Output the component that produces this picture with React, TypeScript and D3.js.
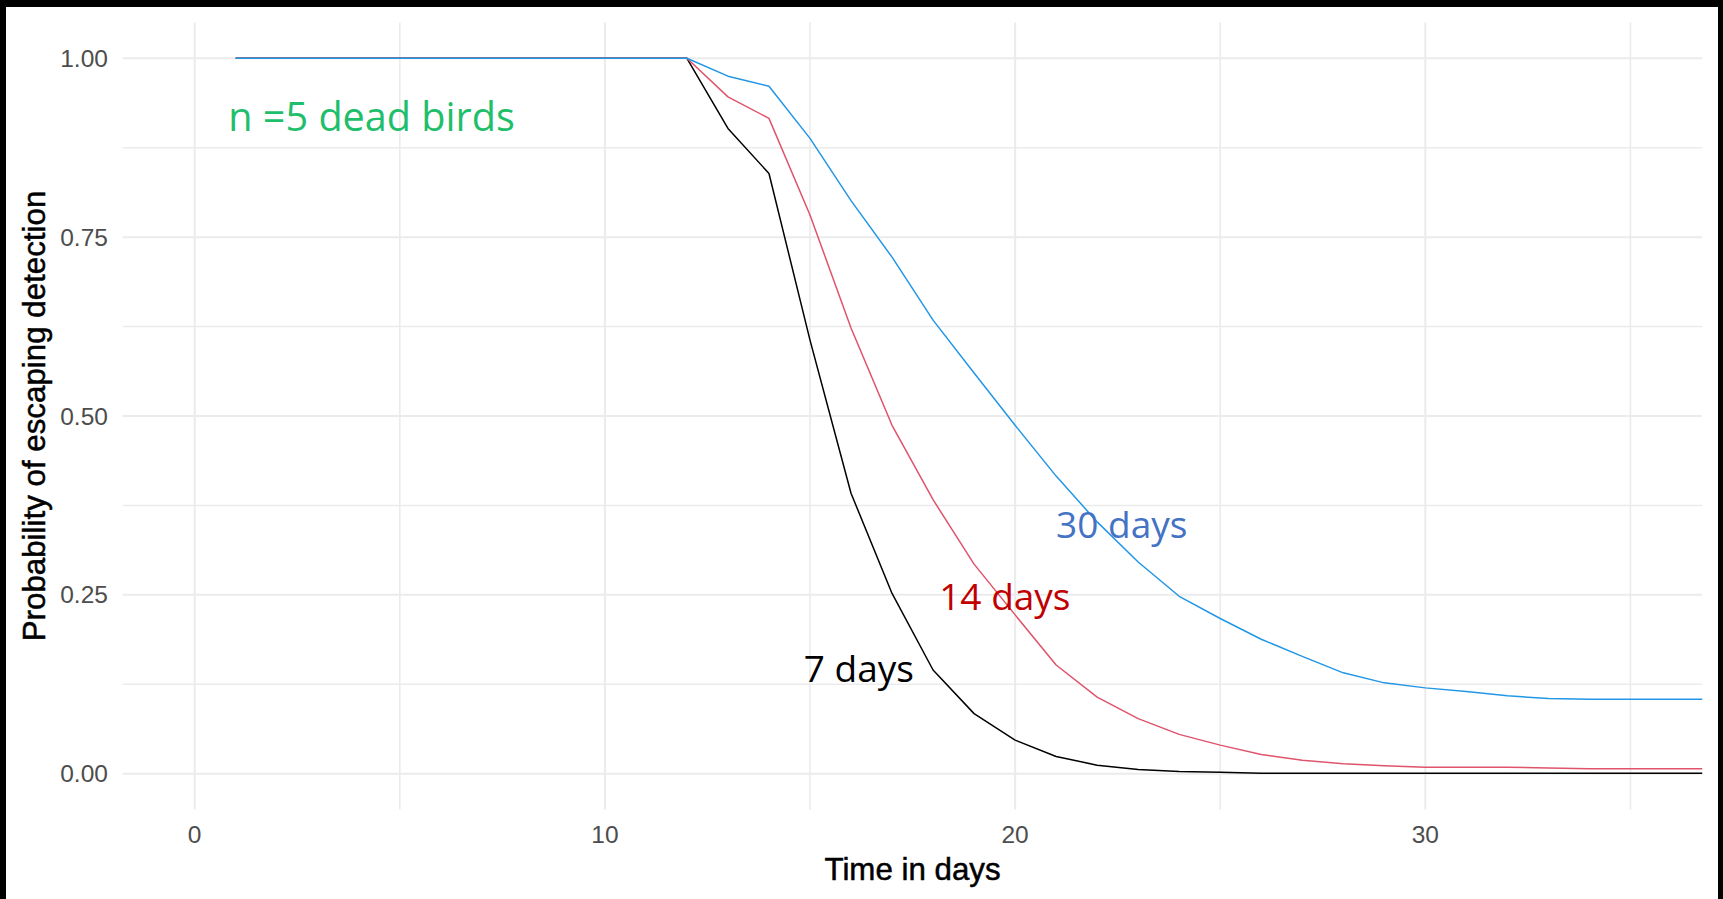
import { useEffect, useRef } from "react";
import * as d3 from "d3";

// days on the x axis
const days = [1, 2, 3, 4, 5, 6, 7, 8, 9, 10, 11, 12, 13, 14, 15, 16, 17, 18, 19, 20, 21, 22, 23, 24, 25, 26, 27, 28, 29, 30, 31, 32, 33, 34, 35, 36, 37];

// probability of escaping detection, one list per search interval
const sevenDays = [1, 1, 1, 1, 1, 1, 1, 1, 1, 1, 1, 1, 0.902, 0.839, 0.606, 0.392, 0.252, 0.145, 0.084, 0.047, 0.024, 0.012, 0.006, 0.003, 0.002, 0.0005, 0.0005, 0.0005, 0.0005, 0.0005, 0.0005, 0.0005, 0.0005, 0.0005, 0.0005, 0.0005, 0.0005];
const fourteenDays = [1, 1, 1, 1, 1, 1, 1, 1, 1, 1, 1, 1, 0.946, 0.916, 0.781, 0.623, 0.487, 0.383, 0.293, 0.222, 0.152, 0.107, 0.077, 0.055, 0.040, 0.027, 0.019, 0.014, 0.011, 0.009, 0.009, 0.009, 0.008, 0.007, 0.007, 0.007, 0.007];
const thirtyDays = [1, 1, 1, 1, 1, 1, 1, 1, 1, 1, 1, 1, 0.975, 0.961, 0.888, 0.801, 0.722, 0.634, 0.560, 0.487, 0.416, 0.352, 0.296, 0.248, 0.217, 0.188, 0.164, 0.141, 0.127, 0.120, 0.115, 0.109, 0.105, 0.104, 0.104, 0.104, 0.104];

const seriesNames = ["7 days", "14 days", "30 days"];
const seriesColours = ["#000000", "#DF536B", "#2297E6"];

const xTicks = [0, 10, 20, 30];
const xMinor = [5, 15, 25, 35];
const yTicks = [0, 0.25, 0.5, 0.75, 1];
const yMinor = [0.125, 0.375, 0.625, 0.875];

// text boxes laid over the plot
const labelTexts = ["n =5 dead birds", "30 days", "14 days", "7 days"];
const labelColours = ["#1FBE6B", "#4472C4", "#C00000", "#000000"];
const labelDays = [0.82, 21.0, 18.15, 14.85];
const labelProbs = [0.899, 0.330, 0.229, 0.128];
const labelSizes = [39.6, 37, 37, 37];

export default function App() {
  const svgRef = useRef<SVGSVGElement>(null);

  useEffect(() => {
    if (!svgRef.current) return;
    const W = 1723;
    const H = 899;
    const margin = { top: 22.5, right: 20.8, bottom: 89.5, left: 122.9 };
    const svg = d3.select(svgRef.current);
    svg.selectAll("*").remove();
    svg.attr("width", W).attr("height", H);

    // black frame round the white picture
    svg.append("rect").attr("width", W).attr("height", H).attr("fill", "#000");
    svg.append("rect")
      .attr("x", 6).attr("y", 7)
      .attr("width", 1718 - 6).attr("height", H - 7)
      .attr("fill", "#fff");

    const x = d3.scaleLinear().domain([-1.75, 36.75]).range([margin.left, W - margin.right]);
    const y = d3.scaleLinear().domain([-0.05, 1.05]).range([H - margin.bottom, margin.top]);

    const grid = svg.append("g");
    grid.selectAll("line.ym")
      .data(yMinor).enter().append("line")
      .attr("x1", x.range()[0]).attr("x2", x.range()[1])
      .attr("y1", d => y(d)).attr("y2", d => y(d))
      .attr("stroke", "#EBEBEB").attr("stroke-width", 1.6);
    grid.selectAll("line.xm")
      .data(xMinor).enter().append("line")
      .attr("y1", y.range()[0]).attr("y2", y.range()[1])
      .attr("x1", d => x(d)).attr("x2", d => x(d))
      .attr("stroke", "#EBEBEB").attr("stroke-width", 1.6);
    grid.selectAll("line.yM")
      .data(yTicks).enter().append("line")
      .attr("x1", x.range()[0]).attr("x2", x.range()[1])
      .attr("y1", d => y(d)).attr("y2", d => y(d))
      .attr("stroke", "#EBEBEB").attr("stroke-width", 2);
    grid.selectAll("line.xM")
      .data(xTicks).enter().append("line")
      .attr("y1", y.range()[0]).attr("y2", y.range()[1])
      .attr("x1", d => x(d)).attr("x2", d => x(d))
      .attr("stroke", "#EBEBEB").attr("stroke-width", 2);

    // tick labels
    svg.selectAll("text.ytick")
      .data(yTicks).enter().append("text")
      .attr("x", margin.left - 15)
      .attr("y", d => y(d))
      .attr("dy", "0.35em")
      .attr("text-anchor", "end")
      .attr("font-family", "'Liberation Sans', Arial, sans-serif")
      .attr("font-size", 24.5)
      .attr("fill", "#4D4D4D")
      .text(d => d3.format(".2f")(d));
    svg.selectAll("text.xtick")
      .data(xTicks).enter().append("text")
      .attr("x", d => x(d))
      .attr("y", 843.3)
      .attr("text-anchor", "middle")
      .attr("font-family", "'Liberation Sans', Arial, sans-serif")
      .attr("font-size", 24.5)
      .attr("fill", "#4D4D4D")
      .text(d => String(d));

    // axis titles
    svg.append("text")
      .attr("x", (x.range()[0] + x.range()[1]) / 2)
      .attr("y", 880)
      .attr("text-anchor", "middle")
      .attr("font-family", "'Liberation Sans', Arial, sans-serif")
      .attr("font-size", 31.3)
      .attr("fill", "#000")
      .attr("stroke", "#000")
      .attr("stroke-width", 0.5)
      .text("Time in days");
    svg.append("text")
      .attr("transform", `translate(45,${(y.range()[0] + y.range()[1]) / 2}) rotate(-90)`)
      .attr("text-anchor", "middle")
      .attr("font-family", "'Liberation Sans', Arial, sans-serif")
      .attr("font-size", 31.3)
      .attr("fill", "#000")
      .attr("stroke", "#000")
      .attr("stroke-width", 0.5)
      .text("Probability of escaping detection");

    // curves, clipped to the panel
    svg.append("clipPath").attr("id", "panel")
      .append("rect")
      .attr("x", x.range()[0]).attr("y", y.range()[1])
      .attr("width", x.range()[1] - x.range()[0])
      .attr("height", y.range()[0] - y.range()[1]);

    const allSeries = [sevenDays, fourteenDays, thirtyDays];
    const line = d3.line<number>()
      .x((_, i) => x(days[i]))
      .y(d => y(d));
    svg.append("g").attr("clip-path", "url(#panel)")
      .selectAll("path")
      .data(allSeries).enter().append("path")
      .attr("d", d => line(d) as string)
      .attr("fill", "none")
      .attr("stroke", (_, i) => seriesColours[i])
      .attr("stroke-width", 1.5)
      .attr("stroke-linejoin", "round")
      .attr("data-name", (_, i) => seriesNames[i]);

    // annotations
    svg.selectAll("text.note")
      .data(labelTexts).enter().append("text")
      .attr("x", (_, i) => x(labelDays[i]))
      .attr("y", (_, i) => y(labelProbs[i]))
      .attr("font-family", "'Open Sans', 'Noto Sans', sans-serif")
      .attr("font-size", (_, i) => labelSizes[i])
      .attr("fill", (_, i) => labelColours[i])
      .text(d => d);
  }, []);

  return (
    <div style={{ position: "fixed", left: 0, top: 0 }}>
      <svg ref={svgRef}></svg>
    </div>
  );
}
